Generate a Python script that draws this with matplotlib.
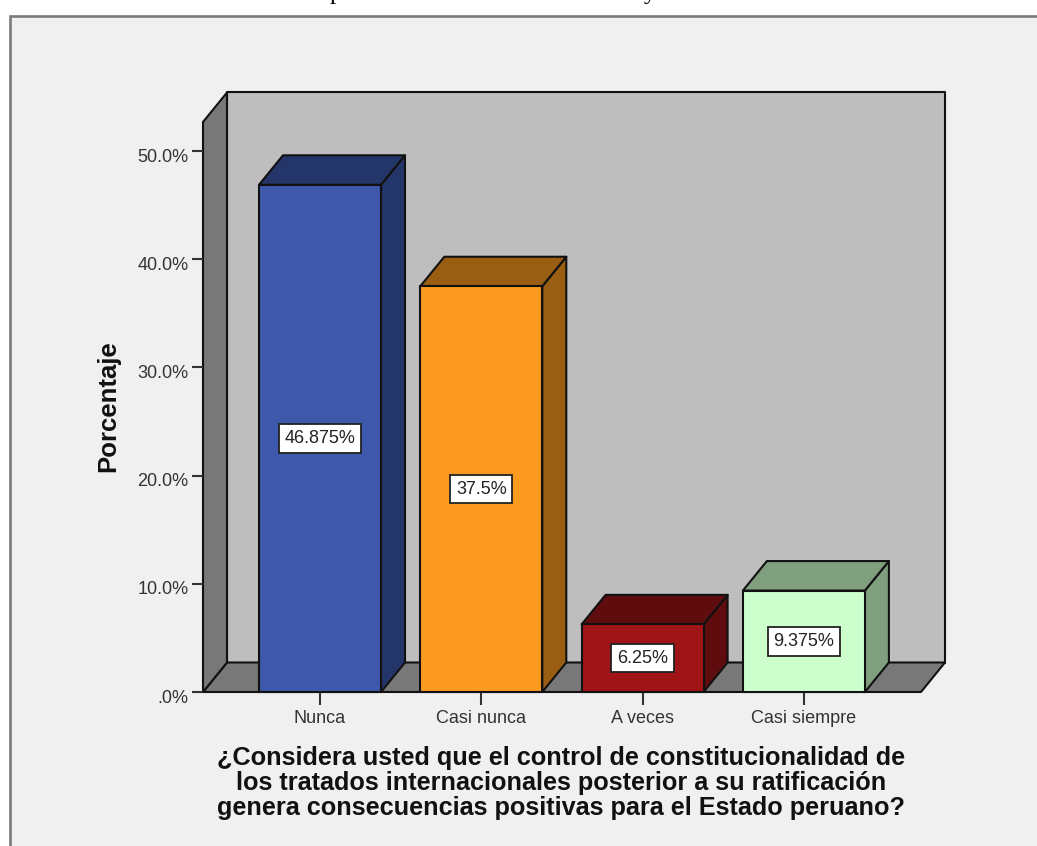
import matplotlib
matplotlib.use("Agg")
import matplotlib.pyplot as plt
from matplotlib.lines import Line2D
from matplotlib.patches import Polygon, Rectangle
from matplotlib.transforms import ScaledTranslation

categories = ["Nunca", "Casi nunca", "A veces", "Casi siempre"]
values = [46.875, 37.5, 6.25, 9.375]
value_labels = ["46.875%", "37.5%", "6.25%", "9.375%"]
front_colors = ["#3E58AC", "#FB9A1E", "#A01418", "#CCFFCC"]
dark_colors = ["#24356A", "#995E12", "#5F0C0E", "#7F9F7F"]
y_ticks = [0, 10, 20, 30, 40, 50]
y_tick_labels = [".0%", "10.0%", "20.0%", "30.0%", "40.0%", "50.0%"]
y_label = "Porcentaje"
x_label = ("¿Considera usted que el control de constitucionalidad de\n"
           "los tratados internacionales posterior a su ratificación\n"
           "genera consecuencias positivas para el Estado peruano?")

W, H = 1037, 846
plt.rcParams["font.family"] = ["Liberation Sans", "DejaVu Sans"]
fig = plt.figure(figsize=(W / 100, H / 100), dpi=100, facecolor="white")

# outer panel: grey border on the top and left only
fig.patches.append(Rectangle((9.5 / W, 0), (W - 9.5) / W, (H - 16) / H, transform=fig.transFigure,
                             facecolor="#F0F0F0", edgecolor="none", zorder=-5))
fig.add_artist(Line2D([9.5 / W, 9.5 / W, 1], [0, 1 - 16 / H, 1 - 16 / H], transform=fig.transFigure,
                      color="#7A7A7A", linewidth=1.9, solid_joinstyle="miter", zorder=-4))

# clipped remains of the caption above the figure
for ch, px in (("p", 330), ("y", 644)):
    fig.text(px / W, 1.0 + 1 / H, ch, family="Liberation Serif", fontsize=18, color="black",
             ha="left", va="baseline")

ax = fig.add_axes([203 / W, (H - 692) / H, (921 - 203) / W, (692 - 122) / H])
ax.patch.set_visible(False)
for s in ax.spines.values():
    s.set_visible(False)

px_per_cat = 161.3
px_per_pct = 10.82
ax.set_xlim(-117 / px_per_cat, 601 / px_per_cat)
ax.set_ylim(0, 570 / px_per_pct)
x0, x1 = ax.get_xlim()
y0, y1 = ax.get_ylim()
dx, dy = 24 / px_per_cat, 29.5 / px_per_pct
bar_w = 122 / px_per_cat
lw = 1.5
edge = "#111111"


def poly(pts, color, z):
    ax.add_patch(Polygon(pts, closed=True, facecolor=color, edgecolor=edge, linewidth=lw,
                         joinstyle="round", clip_on=False, zorder=z))


poly([(x0 + dx, y0 + dy), (x1 + dx, y0 + dy), (x1 + dx, y1 + dy), (x0 + dx, y1 + dy)], "#BEBEBE", 1)
poly([(x0, y0), (x1, y0), (x1 + dx, y0 + dy), (x0 + dx, y0 + dy)], "#787878", 1.1)
poly([(x0, y0), (x0 + dx, y0 + dy), (x0 + dx, y1 + dy), (x0, y1)], "#787878", 1.2)

for i, (v, fc, dc, lab) in enumerate(zip(values, front_colors, dark_colors, value_labels)):
    l, r = i - bar_w / 2, i + bar_w / 2
    poly([(r, 0), (r + dx, dy), (r + dx, v + dy), (r, v)], dc, 2 + i)
    poly([(l, v), (r, v), (r + dx, v + dy), (l + dx, v + dy)], dc, 2 + i)
    ax.bar(i, v, width=bar_w, color=fc, edgecolor=edge, linewidth=lw, zorder=2.5 + i, clip_on=False)
    ax.text(i, v / 2, lab, ha="center", va="center", fontsize=13, color="#222222", zorder=8,
            bbox=dict(boxstyle="square,pad=0.32", facecolor="white", edgecolor="#222222", linewidth=1.3))

ax.set_xticks(range(len(categories)))
ax.set_xticklabels(categories)
ax.set_yticks(y_ticks)
ax.set_yticklabels(y_tick_labels)
ax.tick_params(axis="x", length=9, width=1.5, color="#333333", pad=3.7, labelsize=13, labelcolor="#333333")
ax.tick_params(axis="y", length=8, width=1.5, color="#333333", pad=2.5, labelsize=13, labelcolor="#333333")
shift = ScaledTranslation(0, -4 / 100, fig.dpi_scale_trans)
for t in ax.get_yticklabels():
    t.set_transform(t.get_transform() + shift)

fig.text(108 / W, 1 - 406 / H, y_label, rotation=90, ha="center", va="center",
         fontsize=18.5, fontweight="bold", color="#111111")
fig.text(561 / W, 1 - 783 / H, x_label, ha="center", va="center", fontsize=18.2,
         fontweight="bold", color="#111111", linespacing=1.06)

fig.savefig("out.png", dpi=100, facecolor="white")
